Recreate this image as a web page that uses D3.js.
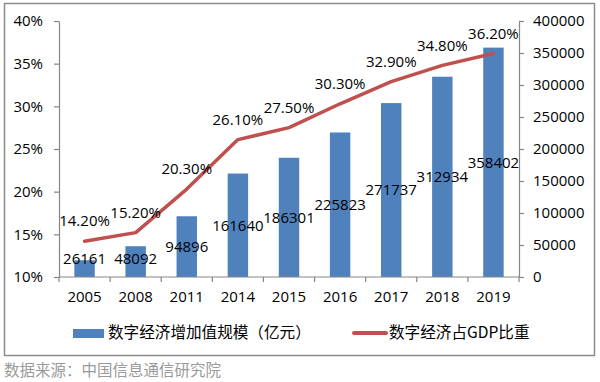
<!DOCTYPE html>
<html><head><meta charset="utf-8">
<script src="https://cdn.jsdelivr.net/npm/d3@7"></script>
<style>body{margin:0;background:#fff}svg{display:block}text{font-family:"Open Sans","Noto Sans CJK SC",sans-serif}</style>
</head><body>
<svg id="c" width="600" height="382"></svg>
<script>
const years = ["2005","2008","2011","2014","2015","2016","2017","2018","2019"];
const scaleValues = [26161,48092,94896,161640,186301,225823,271737,312934,358402];
const gdpShare = [0.142,0.152,0.203,0.261,0.275,0.303,0.329,0.348,0.362];
const leftTicks = [0.10,0.15,0.20,0.25,0.30,0.35,0.40];
const rightTicks = [0,50000,100000,150000,200000,250000,300000,350000,400000];
const barName = "数字经济增加值规模（亿元）";
const lineName = "数字经济占GDP比重";
const sourceText = "数据来源：中国信息通信研究院";

const svg = d3.select("#c");
const L = 59, R = 519, T = 21, B = 277;
const axisColor = "#868686", barColor = "#4F81BD", lineColor = "#C0504D";

svg.append("rect").attr("x",4.5).attr("y",3.5).attr("width",590).attr("height",352)
  .attr("fill","none").attr("stroke","#8c8c8c").attr("stroke-width",1.5);

const x = d3.scaleBand().domain(years).range([L,R]).padding(0);
const yL = d3.scaleLinear().domain([0.10,0.40]).range([B,T]);
const yR = d3.scaleLinear().domain([0,400000]).range([B,T]);
const bw = x.bandwidth()*0.4;

// bars
svg.append("g").selectAll("rect").data(years).join("rect")
  .attr("x",(d)=>x(d)+x.bandwidth()/2-bw/2)
  .attr("y",(d,i)=>yR(scaleValues[i]))
  .attr("width",bw)
  .attr("height",(d,i)=>B-yR(scaleValues[i]))
  .attr("fill",barColor);

// axes
function styleAxis(g){
  g.select(".domain").attr("stroke",axisColor).attr("stroke-width",1.2);
  g.selectAll(".tick line").attr("stroke",axisColor).attr("stroke-width",1.2);
  g.selectAll(".tick text").attr("fill","#000").style("font-size","15px")
   .style("font-family",'"Open Sans",sans-serif');
}
const gl = svg.append("g").attr("transform",`translate(${L},0)`)
  .call(d3.axisLeft(yL).tickValues(leftTicks).tickFormat(d3.format(".0%")).tickSize(5).tickPadding(11).tickSizeOuter(0));
styleAxis(gl);
const gr = svg.append("g").attr("transform",`translate(${R},0)`)
  .call(d3.axisRight(yR).tickValues(rightTicks).tickFormat(d3.format("d")).tickSize(5).tickPadding(9).tickSizeOuter(0));
styleAxis(gr);

// x axis with ticks at category boundaries
const gx = svg.append("g").attr("transform",`translate(0,${B})`);
gx.append("line").attr("x1",L).attr("x2",R).attr("stroke",axisColor).attr("stroke-width",1.2);
const bounds = years.map(d=>x(d)).concat([R]);
gx.selectAll("line.t").data(bounds).join("line").attr("class","t")
  .attr("x1",d=>d).attr("x2",d=>d).attr("y1",0).attr("y2",5)
  .attr("stroke",axisColor).attr("stroke-width",1.2);
gx.selectAll("text").data(years).join("text")
  .attr("x",d=>x(d)+x.bandwidth()/2).attr("y",20).attr("dy","0.35em")
  .attr("text-anchor","middle").style("font-size","15px").text(d=>d);

// bar labels
svg.append("g").selectAll("text").data(years).join("text")
  .attr("x",d=>x(d)+x.bandwidth()/2)
  .attr("y",(d,i)=>Math.min((yR(scaleValues[i])+B)/2, B-18))
  .attr("dy","0.35em").attr("text-anchor","middle")
  .style("font-size","15px").attr("fill","#000")
  .text((d,i)=>scaleValues[i]);

// line
const line = d3.line().x((d,i)=>x(years[i])+x.bandwidth()/2).y(d=>yL(d));
svg.append("path").datum(gdpShare).attr("d",line)
  .attr("fill","none").attr("stroke",lineColor).attr("stroke-width",3.5)
  .attr("stroke-linejoin","round").attr("stroke-linecap","round");

svg.append("g").selectAll("text").data(gdpShare).join("text")
  .attr("x",(d,i)=>x(years[i])+x.bandwidth()/2)
  .attr("y",d=>yL(d)-20).attr("dy","0.35em").attr("text-anchor","middle")
  .style("font-size","15px").attr("fill","#000")
  .text(d=>d3.format(".2%")(d));

// legend
const lg = svg.append("g");
lg.append("rect").attr("x",73).attr("y",329).attr("width",31).attr("height",9).attr("fill",barColor);
lg.append("text").attr("x",108).attr("y",333).attr("dy","0.35em").style("font-size","15.6px")
  .style("font-family",'"Noto Sans CJK SC",sans-serif').text(barName);
lg.append("line").attr("x1",354).attr("x2",386).attr("y1",333).attr("y2",333)
  .attr("stroke",lineColor).attr("stroke-width",4).attr("stroke-linecap","round");
lg.append("text").attr("x",389).attr("y",333).attr("dy","0.35em").style("font-size","15.6px")
  .style("font-family",'"Noto Sans CJK SC",sans-serif').text(lineName);

svg.append("text").attr("x",4).attr("y",371).attr("dy","0.35em").style("font-size","15.5px")
  .attr("fill","#9a9a9a").style("font-family",'"Noto Sans CJK SC",sans-serif').text(sourceText);
</script>
</body></html>
